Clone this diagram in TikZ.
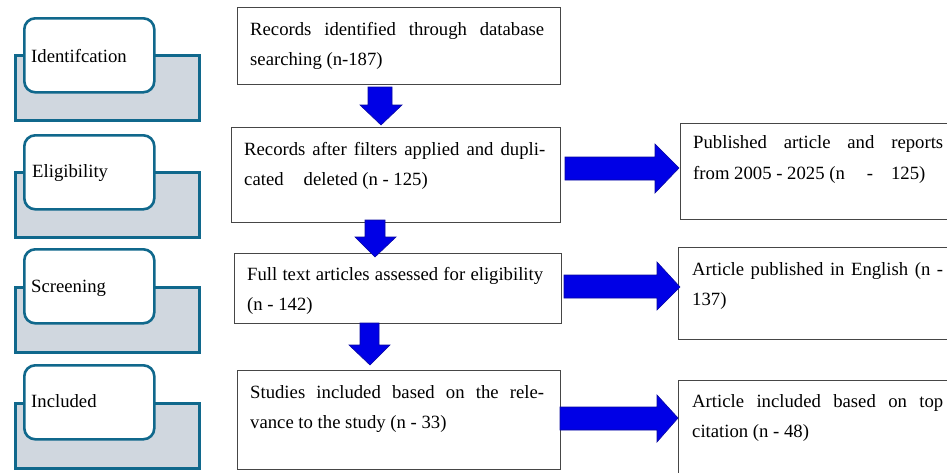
\documentclass[tikz,border=0pt]{standalone}
\usepackage{fontspec}
\setmainfont{Liberation Serif}
\definecolor{stageteal}{RGB}{16,104,140}
\definecolor{stagegray}{RGB}{208,215,223}
\definecolor{arrowblue}{RGB}{0,0,230}
\definecolor{arrowedge}{RGB}{10,10,160}
\definecolor{boxline}{RGB}{70,70,70}
\newcommand{\jline}[2]{\makebox[#1][s]{#2}}
\begin{document}
\begin{tikzpicture}[x=1pt,y=-1pt,
  font=\fontsize{18.7}{30}\selectfont,
  stageback/.style={draw=stageteal, line width=2.6pt, fill=stagegray, anchor=north west, inner sep=0pt, minimum width=184pt, minimum height=65pt},
  stagefront/.style={draw=stageteal, line width=2.6pt, fill=white, rounded corners=11pt, anchor=north west, inner sep=0pt, minimum width=130pt, minimum height=74pt},
  flowbox/.style={draw=boxline, line width=1.1pt, fill=white, anchor=north west, inner sep=0pt},
  blockarrow/.style={fill=arrowblue, draw=arrowedge, line width=0.6pt, line join=miter},
  txt/.style={inner sep=0pt, anchor=base west},
]
\useasboundingbox (0,0) rectangle (947,472);
\clip (0,0) rectangle (947,472);
\fill[white] (0,0) rectangle (947,472);

% stage labels
\node[stageback] (s1b) at (14,54) {};
\node[stagefront] (s1f) at (23,17) {};
\node[txt] (s1t) at (31,62) {Identifcation};

\node[stageback] (s2b) at (14,171) {};
\node[stagefront] (s2f) at (23,134) {};
\node[txt] (s2t) at (32,177) {Eligibility};

\node[stageback] (s3b) at (14,286) {};
\node[stagefront] (s3f) at (23,248) {};
\node[txt] (s3t) at (31,292) {Screening};

\node[stageback] (s4b) at (14,402) {};
\node[stagefront] (s4f) at (23,364) {};
\node[txt] (s4t) at (31,407) {Included};

% main flow boxes
\node[flowbox, minimum width=323pt, minimum height=77pt] (b1) at (236.5,6.5) {};
\node[flowbox, minimum width=329pt, minimum height=95pt] (b2) at (230.5,126.5) {};
\node[flowbox, minimum width=327pt, minimum height=70pt] (b3) at (233.5,252.5) {};
\node[flowbox, minimum width=323pt, minimum height=99pt] (b4) at (236.5,370) {};

% right boxes
\node[flowbox, minimum width=300pt, minimum height=96pt] (bA) at (679.5,122.5) {};
\node[flowbox, minimum width=300pt, minimum height=92pt] (bB) at (677.5,246.5) {};
\node[flowbox, minimum width=300pt, minimum height=120pt] (bC) at (677.5,379.5) {};

% texts
\node[txt] (t1) at (250,35) {\parbox[t]{294pt}{\jline{294pt}{Records identified through database}\\searching (n-187)}};
\node[txt] (t2) at (244,155) {\parbox[t]{301pt}{\jline{301pt}{Records after filters applied and dupli-}\\cated\hspace{20pt}deleted (n - 125)}};
\node[txt] (t3) at (247,280) {\parbox[t]{296pt}{\jline{296pt}{Full text articles assessed for eligibility}\\(n - 142)}};
\node[txt] (t4) at (250,398) {\parbox[t]{294pt}{\jline{294pt}{Studies included based on the rele-}\\vance to the study (n - 33)}};
\node[txt] (tA) at (693,148) {\parbox[t]{250pt}{\baselineskip=31pt\jline{250pt}{Published article and reports}\\from 2005 - 2025 (n\hspace{22pt}-\hspace{18pt}125)}};
\node[txt] (tB) at (692,275) {\parbox[t]{251pt}{\jline{251pt}{Article published in English (n -}\\137)}};
\node[txt] (tC) at (692,407) {\parbox[t]{251pt}{\jline{251pt}{Article included based on top}\\citation (n - 48)}};

% down block arrows
\draw[blockarrow] (368,87) -- (392,87) -- (392,105) -- (402,105) -- (381,125) -- (360,105) -- (368,105) -- cycle;
\draw[blockarrow] (365,220) -- (385,220) -- (385,237) -- (396,237) -- (375,257) -- (355,237) -- (365,237) -- cycle;
\draw[blockarrow] (360,323) -- (379,323) -- (379,345) -- (390,345) -- (370,365) -- (349,345) -- (360,345) -- cycle;

% right block arrows
\draw[blockarrow] (565,157) -- (655,157) -- (655,144) -- (679,168) -- (655,193) -- (655,180) -- (565,180) -- cycle;
\draw[blockarrow] (564,275) -- (657,275) -- (657,262) -- (680,287) -- (657,310) -- (657,298) -- (564,298) -- cycle;
\draw[blockarrow] (560,407) -- (657,407) -- (657,395) -- (678,418) -- (657,442) -- (657,430) -- (560,430) -- cycle;
\end{tikzpicture}
\end{document}
